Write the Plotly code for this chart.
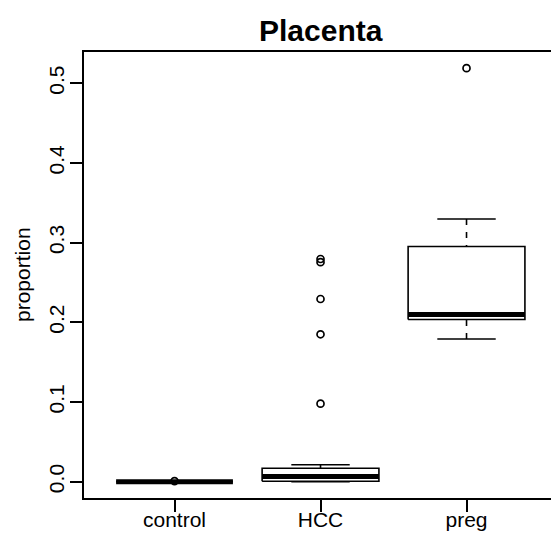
import plotly.graph_objects as go

# Groups and five-number summaries of the proportion per group
categories = ["control", "HCC", "preg"]
lower_whisker = [0.0, 0.0, 0.179]
q1 = [0.0, 0.0005, 0.2036]
median = [0.0, 0.0065, 0.2098]
q3 = [0.0, 0.0168, 0.2951]
upper_whisker = [0.0, 0.0212, 0.3297]

# Points beyond the whiskers, per group
outliers_control = [0.0006]
outliers_hcc = [0.0979, 0.185, 0.2293, 0.2755, 0.2795]
outliers_preg = [0.519]
outliers = [outliers_control, outliers_hcc, outliers_preg]

y_ticks = [0.0, 0.1, 0.2, 0.3, 0.4, 0.5]

FONT = "Liberation Sans, Arial, Helvetica, sans-serif"
AXIS_FS = 21
TITLE_FS = 30
BOX_HALF = 0.4
CAP_HALF = 0.2
LW = 1.6

fig = go.Figure()

for i, cat in enumerate(categories):
    x = i + 1
    # dashed whiskers, drawn from the whisker end toward the box
    for end, edge in ((lower_whisker[i], q1[i]), (upper_whisker[i], q3[i])):
        fig.add_trace(go.Scatter(
            x=[x, x], y=[end, edge], mode="lines",
            line=dict(color="black", width=LW, dash="6px,7px"),
            hoverinfo="skip", showlegend=False))
    # whisker caps
    for end in (lower_whisker[i], upper_whisker[i]):
        fig.add_trace(go.Scatter(
            x=[x - CAP_HALF, x + CAP_HALF], y=[end, end], mode="lines",
            line=dict(color="black", width=LW),
            hoverinfo="skip", showlegend=False))
    # box
    fig.add_trace(go.Scatter(
        x=[x - BOX_HALF, x + BOX_HALF, x + BOX_HALF, x - BOX_HALF, x - BOX_HALF],
        y=[q1[i], q1[i], q3[i], q3[i], q1[i]], mode="lines",
        fill="toself", fillcolor="white",
        line=dict(color="black", width=LW),
        hoverinfo="skip", showlegend=False))
    # median
    fig.add_trace(go.Scatter(
        x=[x - BOX_HALF, x + BOX_HALF], y=[median[i], median[i]], mode="lines",
        line=dict(color="black", width=5),
        hoverinfo="skip", showlegend=False))
    # outliers
    fig.add_trace(go.Scatter(
        x=[x] * len(outliers[i]), y=outliers[i], mode="markers",
        marker=dict(symbol="circle-open", size=7, color="black",
                    line=dict(width=1.7, color="black")),
        hoverinfo="skip", showlegend=False))

W, H = 551, 536
ML, MR, MT, MB = 84, 0, 52, 38
px_per_cat = 146.0
x_lo = 0.38
x_hi = x_lo + (W - ML - MR) / px_per_cat

fig.update_layout(
    width=W, height=H,
    margin=dict(l=ML, r=MR, t=MT, b=MB),
    paper_bgcolor="white", plot_bgcolor="white",
    font=dict(family=FONT, size=AXIS_FS, color="black"),
    xaxis=dict(
        range=[x_lo, x_hi], tickmode="array",
        tickvals=[1, 2, 3], ticktext=categories,
        ticks="outside", ticklen=12, tickwidth=LW, tickcolor="black",
        showline=True, linewidth=LW, linecolor="black", mirror=True,
        showgrid=False, zeroline=False, automargin=False,
        ticklabelstandoff=-10,
        tickfont=dict(size=AXIS_FS),
    ),
    yaxis=dict(
        range=[-0.0205, 0.5393], tickmode="array",
        tickvals=y_ticks, ticktext=[f"{v:.1f}" for v in y_ticks],
        tickangle=-90,
        ticks="outside", ticklen=12, tickwidth=LW, tickcolor="black",
        showline=True, linewidth=LW, linecolor="black",
        showgrid=False, zeroline=False, automargin=False,
        ticklabelstandoff=-2,
        tickfont=dict(size=AXIS_FS),
    ),
    annotations=[
        dict(text="<b>Placenta</b>", xref="paper", yref="paper",
             x=(320.5 - ML) / (W - ML - MR), y=(H - MB - 31) / (H - MT - MB),
             xanchor="center", yanchor="middle", showarrow=False,
             font=dict(family=FONT, size=TITLE_FS, color="black")),
        dict(text="proportion", xref="paper", yref="paper",
             x=(22 - ML) / (W - ML - MR), y=0.5,
             xanchor="center", yanchor="middle", textangle=-90,
             showarrow=False, font=dict(family=FONT, size=AXIS_FS, color="black")),
    ],
)

fig.write_html("out.html")
